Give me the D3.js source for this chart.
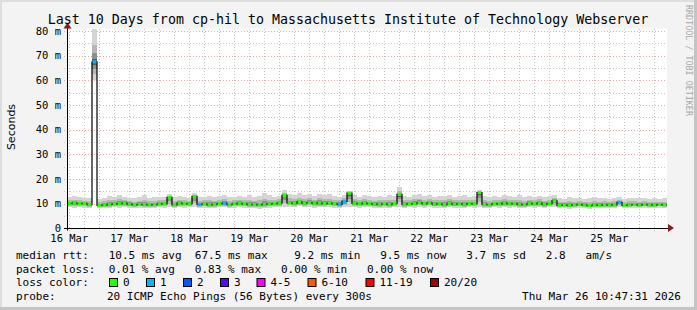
<!DOCTYPE html>
<html>
<head>
<meta charset="utf-8">
<script src="https://cdn.jsdelivr.net/npm/d3@7"></script>
<style>
  html, body { margin: 0; padding: 0; background: #f3f3f3; }
  svg { display: block; }
  .mono { font-family: "DejaVu Sans Mono", monospace; }
</style>
</head>
<body>
<script>
// ---- data ----
const titleText = "Last 10 Days from cp-hil to Massachusetts Institute of Technology Webserver";
const startTime = new Date(Date.UTC(2026, 2, 16, 11, 5));
const endTime = new Date(Date.UTC(2026, 2, 26, 11, 5));
const binHours = 2;

// median rtt per 2h bin (ms)
const median = [
  10.2, 10.3, 10.1, 10.2, 9.7,
  67.5,
  9.4, 9.5, 9.8, 9.9, 10.1, 10.3, 9.9, 9.6, 9.8, 9.7, 9.6, 9.7, 9.9, 10.0,
  12.6,
  9.6, 10.3, 10.1, 10.0,
  13.0,
  9.8, 9.9, 9.6, 9.8, 10.1, 10.3, 9.7, 10.0, 10.2, 10.0, 9.7, 9.8, 9.6, 9.8, 9.9, 10.1, 10.3,
  13.4,
  10.4, 10.2, 10.8, 10.3, 10.5, 10.2, 10.4, 10.1, 10.3, 10.0, 9.8, 11.0,
  14.3,
  10.2, 10.0, 10.2, 10.1, 9.9, 9.8, 10.0, 9.7, 10.1,
  13.8,
  9.8, 10.0, 10.1, 10.5, 10.0, 10.4, 9.9, 10.0, 9.7, 10.2, 9.9, 10.0, 9.8, 10.1, 10.0,
  14.5,
  9.8, 9.7, 10.1, 9.9, 10.3, 10.0, 10.2, 9.8, 9.7, 10.2, 10.0, 10.3, 9.8, 10.1,
  11.2,
  9.4, 9.5, 9.4, 9.6, 9.8, 9.5, 9.3, 9.5, 9.4, 9.6, 9.5, 9.6, 10.6, 9.4, 9.6, 9.7, 9.5, 9.8, 9.6, 9.5, 9.7, 9.6
];

// top and bottom of the smoke per bin (ms)
const smokeHi = [
  12.6, 13.0, 12.8, 12.4, 12.2,
  81,
  12.0, 12.4, 13.2, 12.8, 13.6, 12.9, 12.5, 12.2, 12.7, 13.4, 12.3, 12.6, 12.9, 12.8,
  13.8,
  12.6, 13.1, 12.8, 12.5,
  14.2,
  12.6, 12.9, 13.3, 12.7, 13.0, 13.5, 12.6, 12.9, 13.2, 12.8, 13.6, 12.7, 13.1, 14.2, 13.4, 12.9, 13.3,
  15.6,
  14.0, 13.5, 14.3, 13.6, 13.9, 13.2, 14.1, 13.4, 13.8, 13.0, 12.9, 13.5,
  15.2,
  13.4, 12.8, 13.6, 13.1, 12.7, 13.3, 12.9, 13.5, 13.0,
  16.8,
  13.2, 12.9, 13.6, 13.8, 13.1, 13.4, 12.8, 13.3, 13.0, 13.5, 12.9, 13.2, 13.6, 12.8, 13.1,
  15.4,
  13.3, 12.8, 13.2, 12.9, 13.5, 13.0, 12.7, 13.4, 12.8, 13.1, 12.9, 13.3, 12.7, 13.0,
  13.6,
  12.4, 12.1, 12.6, 12.2, 12.5, 12.0, 12.3, 12.6, 12.2, 12.4, 12.0, 12.5, 12.8, 12.1, 12.3, 12.5, 12.2, 12.4, 12.1, 12.3, 12.0, 12.2
];
const smokeLo = [
  8.6, 8.4, 8.7, 8.5, 8.3,
  60,
  8.2, 8.4, 8.3, 8.6, 8.5, 8.7, 8.4, 8.2, 8.5, 8.3, 8.4, 8.2, 8.6, 8.5,
  8.6,
  8.2, 8.7, 8.5, 8.6,
  8.7,
  8.4, 8.5, 8.2, 8.4, 8.6, 8.7, 8.3, 8.5, 8.6, 8.4, 8.2, 8.4, 8.1, 8.3, 8.5, 8.6, 8.7,
  8.9,
  8.8, 8.6, 9.0, 8.7, 8.8, 8.5, 8.7, 8.6, 8.8, 8.5, 8.4, 8.7,
  8.9,
  8.6, 8.5, 8.7, 8.6, 8.4, 8.3, 8.5, 8.2, 8.6,
  8.8,
  8.4, 8.6, 8.5, 8.7, 8.5, 8.8, 8.4, 8.5, 8.3, 8.6, 8.4, 8.5, 8.3, 8.6, 8.5,
  8.7,
  8.4, 8.3, 8.6, 8.5, 8.7, 8.5, 8.6, 8.4, 8.3, 8.6, 8.5, 8.7, 8.4, 8.6,
  8.8,
  8.2, 8.3, 8.1, 8.4, 8.5, 8.3, 8.1, 8.3, 8.2, 8.4, 8.3, 8.4, 8.9, 8.2, 8.4, 8.5, 8.3, 8.5, 8.4, 8.3, 8.5, 8.4
];

// lost pings (of 20) for the bins that had any
const lossBins = [5, 26, 31, 54, 55, 110];
const lossValues = [1, 1, 1, 1, 1, 1];

const yTicks = [0, 10, 20, 30, 40, 50, 60, 70, 80];
const yTickLabels = ["0", "10 m", "20 m", "30 m", "40 m", "50 m", "60 m", "70 m", "80 m"];

const lossLabels = ["0", "1", "2", "3", "4-5", "6-10", "11-19", "20/20"];
const lossColors = ["#26ff00", "#00b8ff", "#0059ff", "#5e00ff", "#ff00ff", "#ff5500", "#ff0000", "#a10000"];
const lossUpper = [0, 1, 2, 3, 5, 10, 19, 20];

const statLines = [
  "median rtt:   10.5 ms avg  67.5 ms max    9.2 ms min   9.5 ms now   3.7 ms sd   2.8   am/s",
  "packet loss:  0.01 % avg   0.83 % max   0.00 % min   0.00 % now"
];
const probeText = "20 ICMP Echo Pings (56 Bytes) every 300s";
const stampText = "Thu Mar 26 10:47:31 2026";

// ---- layout ----
const W = 697, H = 310;
const plot = {left: 67, right: 667, top: 28.5, bottom: 228.5};

const svg = d3.select("body").append("svg")
  .attr("width", W).attr("height", H);

svg.append("rect").attr("width", W).attr("height", H).attr("fill", "#f3f3f3");
// 3d frame like rrdtool
svg.append("rect").attr("x", 0).attr("y", 0).attr("width", W).attr("height", 2).attr("fill", "#dedede");
svg.append("rect").attr("x", 0).attr("y", 0).attr("width", 2).attr("height", H).attr("fill", "#dedede");
svg.append("rect").attr("x", W - 3).attr("y", 0).attr("width", 3).attr("height", H).attr("fill", "#c4c4c4");
svg.append("rect").attr("x", 0).attr("y", H - 3).attr("width", W).attr("height", 3).attr("fill", "#c4c4c4");

svg.append("rect")
  .attr("x", plot.left).attr("y", plot.top)
  .attr("width", plot.right - plot.left).attr("height", plot.bottom - plot.top)
  .attr("fill", "#ffffff");

const x = d3.scaleUtc().domain([startTime, endTime]).range([plot.left, plot.right]);
const y = d3.scaleLinear().domain([0, 81]).range([plot.bottom, plot.top]);
const crisp = v => Math.round(v) + 0.5;

// grid
const grid = svg.append("g").attr("shape-rendering", "crispEdges");
const minorY = d3.range(5, 81, 10);
grid.selectAll(".gy-minor").data(minorY).join("line")
  .attr("x1", plot.left - 3).attr("x2", plot.right)
  .attr("y1", d => crisp(y(d))).attr("y2", d => crisp(y(d)))
  .attr("stroke", "#c8c8c8").attr("stroke-dasharray", "1,2");
const minorX = d3.utcHour.every(6).range(startTime, endTime).filter(d => d.getUTCHours() !== 0);
grid.selectAll(".gx-minor").data(minorX).join("line")
  .attr("x1", d => crisp(x(d))).attr("x2", d => crisp(x(d)))
  .attr("y1", plot.top).attr("y2", plot.bottom + 2)
  .attr("stroke", "#c8c8c8").attr("stroke-dasharray", "1,2");
grid.selectAll(".gy-major").data(yTicks.slice(1)).join("line")
  .attr("x1", plot.left - 3).attr("x2", plot.right)
  .attr("y1", d => crisp(y(d))).attr("y2", d => crisp(y(d)))
  .attr("stroke", "#eaa8a8").attr("stroke-dasharray", "1,2");
grid.selectAll(".gx-major").data(d3.utcDay.range(startTime, endTime)).join("line")
  .attr("x1", d => crisp(x(d))).attr("x2", d => crisp(x(d)))
  .attr("y1", plot.top).attr("y2", plot.bottom + 2)
  .attr("stroke", "#eaa8a8").attr("stroke-dasharray", "1,2");

// smoke, drawn as stacked shades per bin
const bins = median.map((m, i) => {
  const t0 = new Date(startTime.getTime() + i * binHours * 3600e3);
  const t1 = new Date(startTime.getTime() + (i + 1) * binHours * 3600e3);
  const li = lossBins.indexOf(i);
  return {i: i, t0: t0, t1: t1, med: m, lo: smokeLo[i], hi: smokeHi[i], loss: li < 0 ? 0 : lossValues[li]};
});
const shades = [
  {c: "#d4d4d4", down: 1.0, up: 1.0},
  {c: "#b6b6b6", down: 0.65, up: 0.5},
  {c: "#909090", down: 0.4, up: 0.26},
  {c: "#5c5c5c", down: 0.18, up: 0.1}
];
const smoke = svg.append("g");
shades.forEach(s => {
  smoke.selectAll(null).data(bins).join("rect")
    .attr("x", d => x(d.t0))
    .attr("width", d => x(d.t1) - x(d.t0))
    .attr("y", d => y(Math.min(81, d.med + (d.hi - d.med) * s.up)))
    .attr("height", d => y(d.med - (d.med - d.lo) * s.down) - y(Math.min(81, d.med + (d.hi - d.med) * s.up)))
    .attr("fill", s.c)
    .attr("shape-rendering", "crispEdges");
});

// median: black step line under loss-coloured segments
const stepPts = bins.map(d => [x(d.t0), y(d.med)]);
stepPts.push([x(bins[bins.length - 1].t1), y(bins[bins.length - 1].med)]);
svg.append("path")
  .attr("d", d3.line().curve(d3.curveStepAfter)(stepPts))
  .attr("fill", "none").attr("stroke", "#000").attr("stroke-width", 1.2);

const lossColor = v => lossColors[lossUpper.findIndex(u => v <= u)];
svg.append("g").selectAll("line").data(bins).join("line")
  .attr("x1", d => x(d.t0) + 0.5).attr("x2", d => x(d.t1) - 0.5)
  .attr("y1", d => y(d.med)).attr("y2", d => y(d.med))
  .attr("stroke", d => lossColor(d.loss)).attr("stroke-width", 3);

// axes
svg.append("line")
  .attr("x1", plot.left - 3).attr("x2", plot.right + 1)
  .attr("y1", crisp(plot.bottom - 0.5)).attr("y2", crisp(plot.bottom - 0.5))
  .attr("stroke", "#000");
svg.append("line")
  .attr("x1", plot.left + 0.5).attr("x2", plot.left + 0.5)
  .attr("y1", plot.bottom + 2).attr("y2", plot.top - 1)
  .attr("stroke", "#000");
svg.append("path")
  .attr("d", `M${plot.right + 1},${plot.bottom - 4.5}L${plot.right + 7},${plot.bottom - 0.5}L${plot.right + 1},${plot.bottom + 3.5}Z`)
  .attr("fill", "#8b1a1a");
svg.append("path")
  .attr("d", `M${plot.left - 3.5},${plot.top}L${plot.left + 0.5},${plot.top - 6}L${plot.left + 4.5},${plot.top}Z`)
  .attr("fill", "#8b1a1a");

// tick labels
svg.append("g").selectAll("text").data(yTicks).join("text")
  .attr("class", "mono")
  .attr("x", 61).attr("y", d => y(d) + 3.6)
  .attr("text-anchor", "end").attr("font-size", "10.5px").attr("fill", "#000")
  .text((d, i) => yTickLabels[i]);

const labelDays = d3.utcDay.range(d3.utcDay.floor(startTime), endTime)
  .map(d => d3.utcHour.offset(d, 12))
  .filter(d => d >= startTime && d <= endTime);
svg.append("g").selectAll("text").data(labelDays).join("text")
  .attr("class", "mono")
  .attr("x", d => x(d)).attr("y", 242)
  .attr("text-anchor", "middle").attr("font-size", "10.5px").attr("fill", "#000")
  .text(d => d3.utcFormat("%d %b")(d));

// title and side texts
svg.append("text").attr("class", "mono")
  .attr("x", 348).attr("y", 23.5).attr("text-anchor", "middle")
  .attr("font-size", "13.3px").attr("fill", "#000")
  .text(titleText);

svg.append("text")
  .attr("transform", "translate(14.5,127) rotate(-90)")
  .attr("text-anchor", "middle")
  .attr("font-family", "DejaVu Sans, sans-serif").attr("font-size", "11px").attr("fill", "#000")
  .text("Seconds");

svg.append("text").attr("class", "mono")
  .attr("transform", "translate(685.5,5) rotate(90)")
  .attr("font-size", "8.4px").attr("fill", "#a8a8a8")
  .text("RRDTOOL / TOBI OETIKER");

// legend
const legend = svg.append("g").attr("class", "mono").attr("font-size", "11px").attr("fill", "#000");
legend.selectAll(".stat").data(statLines).join("text")
  .attr("x", 16).attr("y", (d, i) => 259 + i * 13.6)
  .attr("xml:space", "preserve").style("white-space", "pre")
  .text(d => d);

legend.append("text").attr("x", 16).attr("y", 286.2).text("loss color:");
const swatchX = [109, 146, 183, 220, 256.5, 307.5, 365.5, 430];
lossLabels.forEach((lab, i) => {
  legend.append("rect")
    .attr("x", swatchX[i] + 0.5).attr("y", 278.5).attr("width", 8).attr("height", 8)
    .attr("fill", lossColors[i]).attr("stroke", "#000");
  legend.append("text").attr("x", swatchX[i] + 14).attr("y", 286.2).text(lab);
});

legend.append("text").attr("x", 16).attr("y", 300).text("probe:");
legend.append("text").attr("x", 107).attr("y", 300).text(probeText);
legend.append("text").attr("x", 681).attr("y", 300).attr("text-anchor", "end").text(stampText);
</script>
</body>
</html>
